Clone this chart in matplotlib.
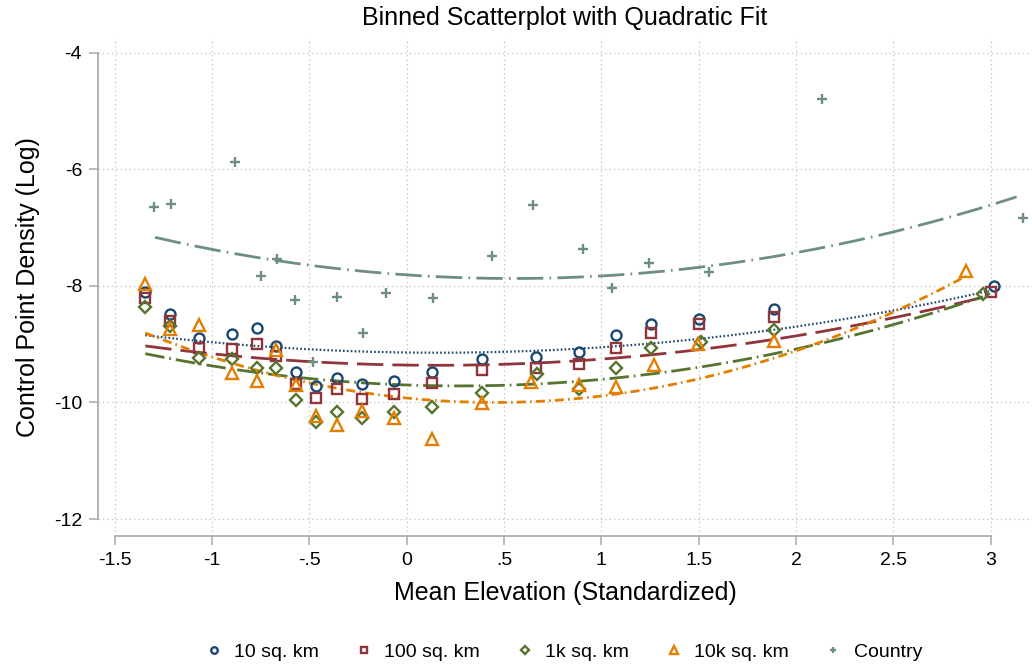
import numpy as np
import matplotlib
matplotlib.use("Agg")
import matplotlib.pyplot as plt

plt.rcParams['font.family'] = ['Liberation Sans', 'DejaVu Sans']
plt.rcParams['lines.scale_dashes'] = False
plt.rcParams['axes.unicode_minus'] = False

# binned means
x_10 = [-1.344, -1.216, -1.065, -0.899, -0.769, -0.673, -0.569, -0.466, -0.360, -0.230,
        -0.065, 0.130, 0.385, 0.664, 0.883, 1.075, 1.257, 1.501, 1.887, 3.016]
y_10 = [-8.10, -8.48, -8.90, -8.83, -8.73, -9.03, -9.48, -9.71, -9.58, -9.69,
        -9.63, -9.47, -9.26, -9.22, -9.13, -8.84, -8.65, -8.56, -8.40, -8.00]

x_100 = [-1.344, -1.216, -1.065, -0.899, -0.769, -0.673, -0.569, -0.466, -0.360, -0.230,
         -0.065, 0.130, 0.385, 0.664, 0.883, 1.075, 1.257, 1.501, 1.887, 2.999]
y_100 = [-8.21, -8.61, -9.07, -9.08, -8.99, -9.20, -9.69, -9.93, -9.77, -9.94,
         -9.86, -9.66, -9.44, -9.40, -9.34, -9.06, -8.81, -8.65, -8.53, -8.10]

x_1k = [-1.344, -1.216, -1.065, -0.899, -0.769, -0.673, -0.569, -0.466, -0.360, -0.230,
        -0.065, 0.130, 0.385, 0.668, 0.883, 1.075, 1.257, 1.512, 1.887, 2.961]
y_1k = [-8.36, -8.69, -9.24, -9.26, -9.41, -9.40, -9.96, -10.33, -10.17, -10.26,
        -10.16, -10.07, -9.84, -9.51, -9.77, -9.40, -9.07, -8.97, -8.76, -8.14]

x_10k = [-1.344, -1.216, -1.065, -0.899, -0.769, -0.673, -0.569, -0.466, -0.360, -0.230,
         -0.065, 0.130, 0.385, 0.638, 0.883, 1.075, 1.270, 1.494, 1.887, 2.873]
y_10k = [-7.97, -8.74, -8.67, -9.49, -9.63, -9.10, -9.70, -10.23, -10.39, -10.15,
         -10.26, -10.63, -10.01, -9.65, -9.70, -9.73, -9.35, -8.99, -8.94, -7.74]

x_cty = [-1.296, -1.211, -0.882, -0.750, -0.668, -0.574, -0.480, -0.360, -0.223, -0.108,
         0.134, 0.440, 0.650, 0.907, 1.053, 1.246, 1.554, 2.135, 3.167]
y_cty = [-6.65, -6.60, -5.87, -7.83, -7.54, -8.24, -9.31, -8.19, -8.80, -8.13,
         -8.21, -7.48, -6.62, -7.36, -8.03, -7.60, -7.77, -4.79, -6.84]

# points (first and last give its extent)
fit_x_10 = [-1.343, 0.30, 1.25, 1.883, 2.99]
fit_y_10 = [-8.84, -9.16, -9.00, -8.72, -8.10]
fit_x_100 = [-1.343, 0.136, 1.25, 2.21, 2.97]
fit_y_100 = [-9.03, -9.36, -9.19, -8.73, -8.19]
fit_x_1k = [-1.343, 0.136, 1.25, 2.14, 2.96]
fit_y_1k = [-9.16, -9.72, -9.51, -8.97, -8.19]
fit_x_10k = [-1.343, 0.49, 1.25, 2.106, 2.873]
fit_y_10k = [-8.81, -10.00, -9.73, -9.04, -7.81]
fit_x_cty = [-1.293, 0.205, 1.575, 3.133]
fit_y_cty = [-7.17, -7.84, -7.66, -6.47]

labels = ['10 sq. km', '100 sq. km', '1k sq. km', '10k sq. km', 'Country']
colors = ['#1a476f', '#90353b', '#55752f', '#e37e00', '#6e8e84']

xticks = [-1.5, -1, -0.5, 0, 0.5, 1, 1.5, 2, 2.5, 3]
xticklabels = ['-1.5', '-1', '-.5', '0', '.5', '1', '1.5', '2', '2.5', '3']
yticks = [-12, -10, -8, -6, -4]
yticklabels = ['-12', '-10', '-8', '-6', '-4']

fig = plt.figure(figsize=(10.32, 6.66), dpi=100)
ax = fig.add_axes([98 / 1032, 130 / 666, 934 / 1032, 498 / 666])

grid_kw = dict(color='#c4c4c4', lw=0.9, ls=(0, (1, 2.2)), zorder=0)
for v in xticks:
    ax.axvline(v, **grid_kw)
for v in yticks:
    ax.axhline(v, **grid_kw)

series = [(x_10, y_10, 'o', 7.2),
          (x_100, y_100, 's', 6.8),
          (x_1k, y_1k, 'D', 6.0),
          (x_10k, y_10k, '^', 8.2),
          (x_cty, y_cty, '+', 7.5)]
for (xs, ys, m, ms), lab, c in zip(series, labels, colors):
    ax.plot(xs, ys, ls='none', marker=m, ms=ms, mfc='none', mec=c,
            mew=1.7, label=lab, zorder=3)

fits = [(fit_x_10, fit_y_10, (0, (1.2, 1.6)), 1.6),
        (fit_x_100, fit_y_100, (0, (19, 6.5)), 2.0),
        (fit_x_1k, fit_y_1k, (0, (14, 3.6, 1.2, 3.6)), 2.0),
        (fit_x_10k, fit_y_10k, (0, (6.5, 3, 1.2, 3)), 2.0),
        (fit_x_cty, fit_y_cty, (0, (19, 4.5, 1.2, 4.5)), 2.0)]
for (fx, fy, ls, lw), c in zip(fits, colors):
    coef = np.polyfit(fx, fy, 2)
    xx = np.linspace(fx[0], fx[-1], 300)
    ax.plot(xx, np.polyval(coef, xx), color=c, ls=ls, lw=lw, zorder=2)

ax.set_xlim(-1.586, 3.212)
ax.set_ylim(-12.29, -3.748)
ax.set_xticks(xticks)
ax.set_xticklabels(xticklabels)
ax.set_yticks(yticks)
ax.set_yticklabels(yticklabels)

for s in ['top', 'right']:
    ax.spines[s].set_visible(False)
for s in ['left', 'bottom']:
    ax.spines[s].set_color('#a8a8a8')
    ax.spines[s].set_linewidth(1.2)
ax.spines['left'].set_bounds(-12, -4)
ax.spines['bottom'].set_bounds(-1.5, 3)
ax.tick_params(axis='both', colors='#a8a8a8', labelcolor='black', length=6.5,
               width=1.1, labelsize=14, pad=5)

ax.set_xlabel('Mean Elevation (Standardized)', fontsize=18, labelpad=9)
ax.set_ylabel('Control Point Density (Log)', fontsize=18, labelpad=10)
ax.set_title('Binned Scatterplot with Quadratic Fit', fontsize=18, pad=9)

ax.legend(loc='center', bbox_to_anchor=(0.5, -0.233), ncol=5, frameon=False,
          fontsize=14, markerscale=0.65, handlelength=0.6, handletextpad=0.75,
          columnspacing=2.0)

fig.savefig('out.png', dpi=100)
